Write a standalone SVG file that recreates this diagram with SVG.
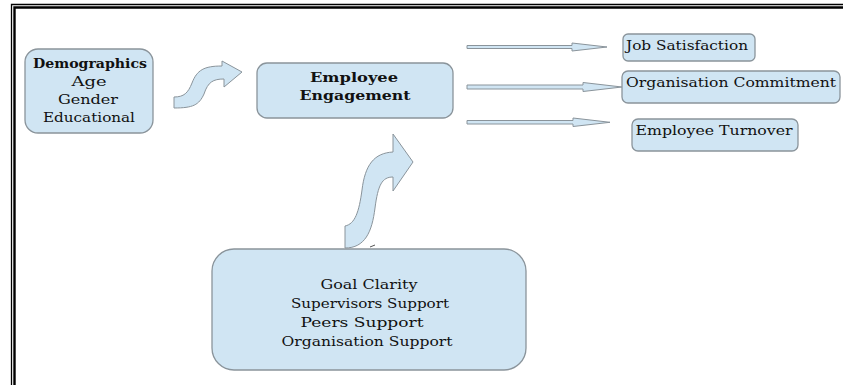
<svg xmlns="http://www.w3.org/2000/svg" width="843" height="385" viewBox="0 0 843 385">
<style>
.box{fill:#d0e5f3;stroke:#8a949b;stroke-width:1.3}
.arr{fill:#d0e5f3;stroke:#8a949b;stroke-width:1}
.t{font-family:"DejaVu Serif","Liberation Serif",serif;font-size:13px;fill:#111;text-anchor:middle}
.b{font-weight:bold}
</style>
<rect width="843" height="385" fill="#fff"/>
<g id="frame" fill="none" stroke="#000">
<path d="M11.5,385 V4.5 H843" stroke-width="1.3"/>
<path d="M14.5,385 V7.5 H843" stroke-width="2.4"/>
</g>
<g id="demographics">
<rect class="box" x="25" y="49" width="128" height="84" rx="13"/>
<text class="t b" x="90" y="68" textLength="114" lengthAdjust="spacingAndGlyphs">Demographics</text>
<text class="t" x="89" y="86" textLength="35" lengthAdjust="spacingAndGlyphs">Age</text>
<text class="t" x="88" y="104" textLength="60" lengthAdjust="spacingAndGlyphs">Gender</text>
<text class="t" x="89" y="122" textLength="92" lengthAdjust="spacingAndGlyphs">Educational</text>
</g>
<g id="engagement">
<rect class="box" x="257" y="63" width="196" height="55" rx="10"/>
<text class="t b" x="354" y="82" textLength="88" lengthAdjust="spacingAndGlyphs">Employee</text>
<text class="t b" x="355" y="100" textLength="111" lengthAdjust="spacingAndGlyphs">Engagement</text>
</g>
<g id="antecedents">
<rect class="box" x="212" y="249" width="314" height="121" rx="22"/>
<text class="t" x="369" y="289" textLength="97" lengthAdjust="spacingAndGlyphs">Goal Clarity</text>
<text class="t" x="370" y="308" textLength="158" lengthAdjust="spacingAndGlyphs">Supervisors Support</text>
<text class="t" x="362" y="327" textLength="123" lengthAdjust="spacingAndGlyphs">Peers Support</text>
<text class="t" x="367" y="346" textLength="171" lengthAdjust="spacingAndGlyphs">Organisation Support</text>
</g>
<g id="job-satisfaction">
<rect class="box" x="623" y="34" width="132" height="27" rx="5"/>
<text class="t" x="687" y="50" textLength="122" lengthAdjust="spacingAndGlyphs">Job Satisfaction</text>
</g>
<g id="org-commitment">
<rect class="box" x="622" y="71" width="218" height="32" rx="6"/>
<text class="t" x="731" y="87" textLength="210" lengthAdjust="spacingAndGlyphs">Organisation Commitment</text>
</g>
<g id="turnover">
<rect class="box" x="632" y="119" width="166" height="32" rx="6"/>
<text class="t" x="714" y="135" textLength="157" lengthAdjust="spacingAndGlyphs">Employee Turnover</text>
</g>
<g id="connectors">
<path class="arr" d="M174,97 C184,97 188,93 192,83 C197,70 204,66 222,66 L222,61 L242,72 L224,87 L224,79 C213,79 208,82 204,94 C199,105 193,108 174,108 Z"/>
<path class="arr" d="M345,248 L345,226 C355,224 359,212 362,190 C365,165 374,153 393,152 L393,134 L413,162 L393,191 L393,177 C382,177 378,185 375,208 C372,232 365,248 345,248 Z"/>
<path d="M370,247 L375,245" stroke="#555" stroke-width="1"/>
<path class="arr" d="M467,45.5 H572 V43 L607,47 L572,51 V48.5 H467 Z"/>
<path class="arr" d="M467,85 H583 V82.5 L622,87 L583,91.5 V89 H467 Z"/>
<path class="arr" d="M467,120.5 H573 V118 L610,122.3 L573,126.5 V124 H467 Z"/>
</g>
</svg>
